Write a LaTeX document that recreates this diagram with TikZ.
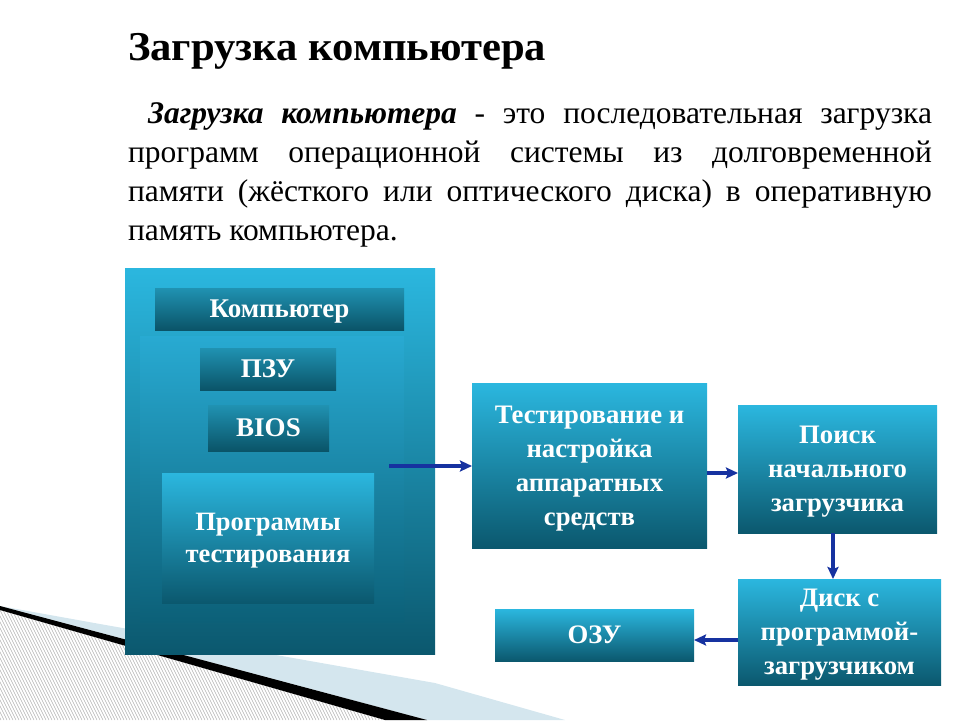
\documentclass[tikz,border=0pt]{standalone}
\usepackage{fontspec}
\setmainfont{Liberation Serif}
\newfontfamily\titlefont[FakeStretch=1.04]{Liberation Serif}
\usetikzlibrary{arrows.meta}

\definecolor{boxtop}{RGB}{43,183,223}
\definecolor{boxbot}{RGB}{11,88,110}
\definecolor{bartop}{RGB}{32,146,178}
\definecolor{barbot}{RGB}{10,84,104}
\definecolor{paneltop}{RGB}{40,170,210}
\definecolor{panelbot}{RGB}{12,96,120}
\definecolor{flowblue}{RGB}{22,50,160}
\definecolor{bandblue}{RGB}{212,230,238}

\begin{document}
\begin{tikzpicture}[x=1pt, y=-1pt, >={Stealth[length=12pt, width=11pt, inset=2pt]},
  every node/.style={inner sep=0pt, outer sep=0pt},
  stage/.style={rectangle, top color=boxtop, bottom color=boxbot, text=white, align=center,
    font=\fontsize{26.7}{34}\selectfont\bfseries},
  bar/.style={rectangle, top color=bartop, bottom color=barbot, text=white,
    font=\fontsize{27}{32}\selectfont\bfseries},
  flow/.style={->, line width=3.5pt, draw=flowblue}]
  \useasboundingbox (0,0) rectangle (960,720);

  \fill[bandblue] (0,606) -- (100,624) -- (435,683) -- (565,720) -- (427,720) -- cycle;
  \begin{scope}
    \clip (0,610) -- (385,720) -- (0,720) -- cycle;
    \foreach \x in {-80,-77,...,400}
      \draw[gray!60, line width=0.5pt] (\x,600) -- ++(60,120);
  \end{scope}
  \fill[black] (0,606) -- (427,720) -- (385,720) -- (0,610) -- cycle;

  \node[anchor=base west, font=\fontsize{41}{46}\titlefont\bfseries] (title) at (128,60)
    {Загрузка компьютера};
  \node[anchor=north west, text width=804pt, align=justify, font=\fontsize{31.5}{39}\selectfont] (intro) at (128,103)
    {\hspace*{20pt}\textbf{\textit{Загрузка компьютера}} - это последовательная загрузка\linebreak
     программ операционной системы из долговременной\linebreak
     памяти (жёсткого или оптического диска) в оперативную\linebreak
     память компьютера.};

  \node[stage, minimum width=310pt, minimum height=386pt] (comp) at (280,461) {};
  \node[rectangle, top color=paneltop, bottom color=panelbot, minimum width=264pt, minimum height=286pt] (panel) at (272,479) {};
  \node[bar, minimum width=249pt, minimum height=42pt, text depth=0pt] (pc) at (279.5,309) {Компьютер};
  \node[bar, minimum width=136pt, minimum height=42pt] (rom) at (268,369) {ПЗУ};
  \node[bar, minimum width=121pt, minimum height=46pt, text depth=-4pt] (bios) at (268.5,428) {BIOS};
  \node[stage, minimum width=212pt, minimum height=130pt, text depth=-7pt, font=\fontsize{26.5}{32}\selectfont\bfseries] (tests) at (268,538)
    {Программы\\ тестирования};

  \node[stage, minimum width=235pt, minimum height=165pt, text depth=-8pt] (hw) at (589.5,465.5)
    {Тестирование и\\ настройка\\ аппаратных\\ средств};
  \node[stage, minimum width=199pt, minimum height=128pt, text depth=-8pt] (boot) at (837.5,469)
    {Поиск\\ начального\\ загрузчика};
  \node[stage, minimum width=203pt, minimum height=106pt, text depth=-9pt] (disk) at (839.5,632)
    {Диск с\\ программой-\\ загрузчиком};
  \node[stage, minimum width=199pt, minimum height=52pt] (ram) at (594.5,635) {ОЗУ};

  \coordinate (src) at (389,466);
  \draw[flow] (src) -- (src -| hw.west);
  \draw[flow] (hw.east |- 0,473) -- (boot.west |- 0,473);
  \draw[flow] (boot.south -| 833,0) -- (disk.north -| 833,0);
  \draw[flow] (disk.west |- 0,640) -- (ram.east |- 0,640);
\end{tikzpicture}
\end{document}
